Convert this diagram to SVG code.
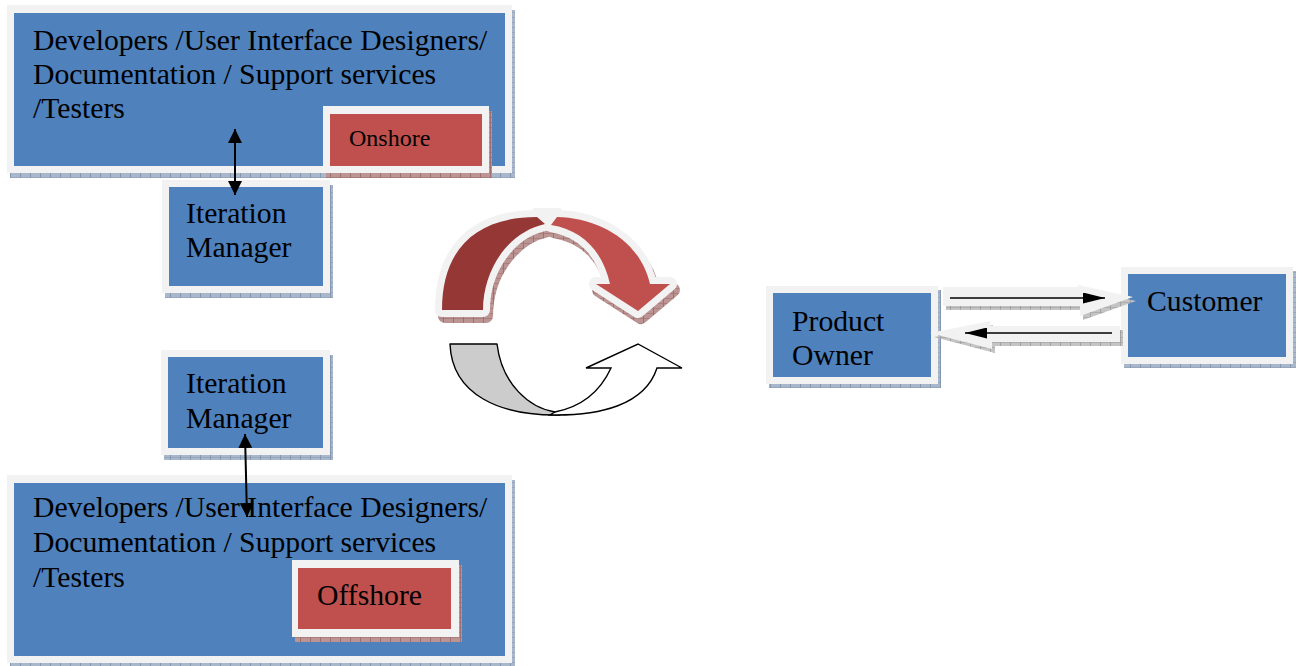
<svg xmlns="http://www.w3.org/2000/svg" width="1300" height="666" viewBox="0 0 1300 666">
<defs>
<style>
.t{font-family:"Liberation Serif","Times New Roman",serif;font-size:29.7px;fill:#000}
.ts{font-family:"Liberation Serif","Times New Roman",serif;font-size:24px;fill:#000}
.bd{fill:#f2f2f2}
.bl{fill:#4f81bd}
.rd{fill:#c0504d}
.sb{fill:url(#pb)}
.sr{fill:url(#pr)}
.sg{fill:url(#pg)}
.ln{stroke:#000;fill:none}
</style>
<pattern id="pb" width="10" height="5" patternUnits="userSpaceOnUse"><rect width="10" height="5" fill="#a9b7cb"/><path d="M0,0V5" stroke="#5f7596" stroke-width="1"/><path d="M0,2.5H10" stroke="#8a9bb4" stroke-width="0.6"/></pattern>
<pattern id="pr" width="10" height="5" patternUnits="userSpaceOnUse"><rect width="10" height="5" fill="#bb9594"/><path d="M0,0V5" stroke="#8b4a48" stroke-width="1"/><path d="M0,2.5H10" stroke="#a06e6c" stroke-width="0.6"/></pattern>
<pattern id="pg" width="10" height="5" patternUnits="userSpaceOnUse"><rect width="10" height="5" fill="#c4c4c4"/><path d="M0,0V5" stroke="#808080" stroke-width="1"/><path d="M0,2.5H10" stroke="#a0a0a0" stroke-width="0.6"/></pattern>
<marker id="ah" markerWidth="14" markerHeight="14" refX="14" refY="7" orient="auto-start-reverse" markerUnits="userSpaceOnUse"><path d="M0,0 L14,7 L0,14 z" fill="#000"/></marker>
<marker id="ah2" markerWidth="22" markerHeight="11" refX="22" refY="5.5" orient="auto" markerUnits="userSpaceOnUse"><path d="M0,0 L22,5.5 L0,11 z" fill="#000"/></marker>
<path id="darkband" d="M442,310 C442,250 475,217 537,217 L545,224 C508,232 483,270 483,310 Z"/>
<path id="lightband" d="M557,217 C598,218 640,240 650,284 L670,284 L638,311 L596,284 L610,284 C603,252 583,230 551,225 Z"/>
</defs>

<g id="onshore-team">
<rect class="sb" x="10" y="10" width="505" height="168"/>
<rect class="bd" x="7" y="5" width="505" height="168"/>
<rect class="bl" x="14" y="13" width="491" height="153"/>
<text class="t" x="33" y="50">Developers /User Interface Designers/</text>
<text class="t" x="33" y="84">Documentation / Support services</text>
<text class="t" x="33" y="118">/Testers</text>
</g>
<g id="onshore-label">
<rect class="sr" x="326" y="111" width="166" height="67"/>
<rect class="bd" x="323" y="106" width="166" height="67"/>
<rect class="rd" x="330" y="114" width="152" height="52"/>
<text class="ts" x="349" y="146">Onshore</text>
</g>
<g id="iteration-manager-onshore">
<rect class="sb" x="165" y="185" width="168" height="113"/>
<rect class="bd" x="162" y="180" width="168" height="113"/>
<rect class="bl" x="169" y="187" width="154" height="99"/>
<text class="t" x="186" y="223">Iteration</text>
<text class="t" x="186" y="257">Manager</text>
</g>
<g id="iteration-manager-offshore">
<rect class="sb" x="164" y="355" width="169" height="105"/>
<rect class="bd" x="161" y="350" width="169" height="105"/>
<rect class="bl" x="168" y="357" width="155" height="91"/>
<text class="t" x="186" y="393">Iteration</text>
<text class="t" x="186" y="428">Manager</text>
</g>
<g id="offshore-team">
<rect class="sb" x="10" y="480" width="505" height="188"/>
<rect class="bd" x="7" y="475" width="505" height="188"/>
<rect class="bl" x="14" y="483" width="491" height="173"/>
<text class="t" x="33" y="517">Developers /User Interface Designers/</text>
<text class="t" x="33" y="552">Documentation / Support services</text>
<text class="t" x="33" y="587">/Testers</text>
</g>
<g id="offshore-label">
<rect class="sr" x="295" y="565" width="167" height="77"/>
<rect class="bd" x="292" y="560" width="167" height="77"/>
<rect class="rd" x="298" y="568" width="153" height="61"/>
<text class="t" x="317" y="605">Offshore</text>
</g>
<g id="product-owner">
<rect class="sb" x="769" y="290" width="172" height="98"/>
<rect class="bd" x="766" y="286" width="172" height="98"/>
<rect class="bl" x="773" y="293" width="158" height="84"/>
<text class="t" x="792" y="331">Product</text>
<text class="t" x="792" y="365">Owner</text>
</g>
<g id="customer">
<rect class="sb" x="1124" y="271" width="172" height="97"/>
<rect class="bd" x="1121" y="267" width="172" height="97"/>
<rect class="bl" x="1128" y="274" width="158" height="83"/>
<text class="t" x="1147" y="311">Customer</text>
</g>

<g id="cycle-arrows">
<g transform="translate(3,6)" fill="url(#pr)" stroke="url(#pr)" stroke-width="14" stroke-linejoin="round">
<use href="#darkband"/>
<use href="#lightband"/>
</g>
<g fill="#f2f2f2" stroke="#f2f2f2" stroke-width="14" stroke-linejoin="round">
<use href="#darkband"/>
<use href="#lightband"/>
<path d="M535,211 L559,211 L552,224 L545,224 Z" stroke-width="6"/>
</g>
<use href="#darkband" fill="#953735"/>
<use href="#lightband" fill="#c0504d"/>
<path d="M450,344 L497,344 C502,385 530,408 555,412 L560,415 C500,416 452,395 450,344 Z" fill="#cccccc" stroke="#000" stroke-width="1.4" stroke-linejoin="round"/>
<path d="M550,415 C600,416 645,405 657,368 L682,368 L638,344 L586,368 L611,368 C600,392 580,407 555,412 Z" fill="#fff" stroke="#000" stroke-width="1.4" stroke-linejoin="miter"/>
</g>

<g id="connectors">
<polygon class="sg" points="946,291 1081,291 1081,289 1136,301 1083,320 1083,310 946,310"/>
<polygon class="bd" points="943,287 1078,287 1078,285 1133,297 1080,316 1080,306 943,306"/>
<polygon class="sg" points="934,337 993,325 993,330 1123,330 1123,346 995,346 995,353"/>
<polygon class="bd" points="930,333 990,321 990,326 1120,326 1120,342 992,342 992,349"/>
<line class="ln" x1="950" y1="298" x2="1105" y2="298" stroke-width="1.6" marker-end="url(#ah2)"/>
<line class="ln" x1="1112" y1="333" x2="965" y2="333" stroke-width="1.6" marker-end="url(#ah2)"/>
<line class="ln" x1="235" y1="129" x2="235" y2="195" stroke-width="2" marker-start="url(#ah)" marker-end="url(#ah)"/>
<line class="ln" x1="245" y1="434" x2="247" y2="517" stroke-width="2" marker-start="url(#ah)" marker-end="url(#ah)"/>
</g>
</svg>
